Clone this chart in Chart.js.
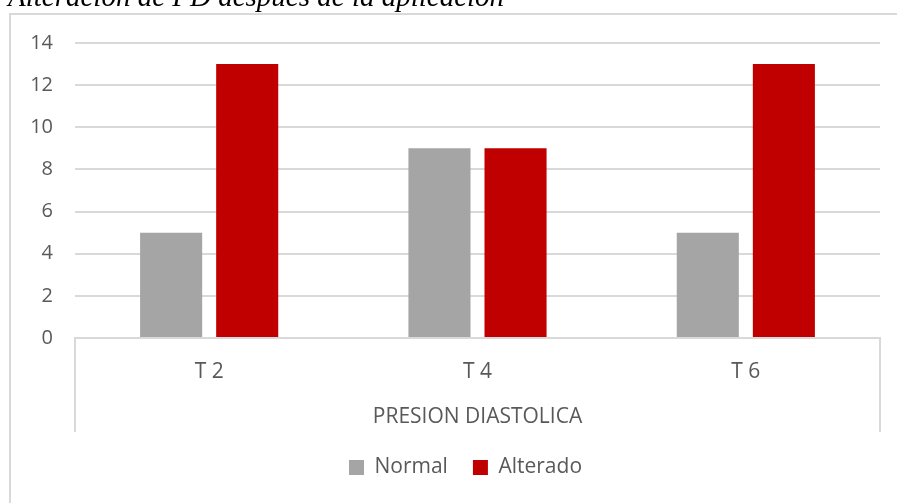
<!DOCTYPE html>
<html>
<head>
<meta charset="utf-8">
<script src="https://cdn.jsdelivr.net/npm/chart.js@4"></script>
<style>
  html, body { margin: 0; padding: 0; background: #ffffff; overflow: hidden; }
  #wrap { position: relative; width: 897px; height: 503px; }
  #title {
    position: absolute; left: 8px; top: -18px; margin: 0;
    font-family: "Liberation Serif", "Times New Roman", serif;
    font-style: italic; font-size: 29px; line-height: 29px; color: #000;
    white-space: nowrap;
  }
  canvas { position: absolute; left: 0; top: 0; }
</style>
</head>
<body>
<div id="wrap">
  <canvas id="c" width="897" height="503"></canvas>
  <div id="title">Alteración de PD después de la aplicación</div>
</div>
<script>
const categories = ['T 2', 'T 4', 'T 6'];
const normalValues = [5, 9, 5];
const alteradoValues = [13, 9, 13];
const seriesNames = ['Normal', 'Alterado'];
const groupLabel = 'PRESION DIASTOLICA';
const yTicks = { min: 0, max: 14, step: 2 };

const FONT = '"Open Sans", Lato, sans-serif';
const LINE = '#d9d9d9';
const TEXT = '#595959';

const framePlugin = {
  id: 'frame',
  afterLayout(chart) {
    // center the legend under the plot area rather than the whole canvas
    const lg = chart.legend;
    if (lg) {
      const a = chart.chartArea;
      const shift = (a.left + a.right) / 2 - (lg.left + lg.right) / 2 - 12;
      lg.left += shift;
      lg.right += shift;
    }
  },
  beforeDraw(chart) {
    const ctx = chart.ctx;
    ctx.save();
    ctx.strokeStyle = LINE;
    ctx.lineWidth = 2;
    ctx.beginPath();
    ctx.moveTo(10, 503);
    ctx.lineTo(10, 14);
    ctx.lineTo(897, 14);
    ctx.stroke();
    ctx.restore();
  },
  afterDatasetsDraw(chart) {
    const ctx = chart.ctx;
    const a = chart.chartArea;
    const xs = chart.scales.x;
    ctx.save();
    ctx.strokeStyle = LINE;
    ctx.lineWidth = 2;
    ctx.beginPath();
    ctx.moveTo(a.left, xs.bottom);
    ctx.lineTo(a.left, a.bottom);
    ctx.lineTo(a.right, a.bottom);
    ctx.lineTo(a.right, xs.bottom);
    ctx.stroke();
    ctx.restore();
  }
};

new Chart(document.getElementById('c'), {
  type: 'bar',
  data: {
    labels: categories,
    datasets: [
      { label: seriesNames[0], data: normalValues, backgroundColor: '#A5A5A5', borderWidth: 0 },
      { label: seriesNames[1], data: alteradoValues, backgroundColor: '#C00000', borderWidth: 0 }
    ]
  },
  options: {
    responsive: false,
    animation: false,
    devicePixelRatio: 1,
    datasets: { bar: { categoryPercentage: 0.567, barPercentage: 0.816 } },
    layout: { padding: { left: 10, top: 43, right: 17, bottom: 15 } },
    scales: {
      x: {
        grid: { display: false },
        border: { display: false },
        ticks: { color: TEXT, font: { family: FONT, size: 21 }, padding: 13 },
        title: {
          display: true, text: groupLabel, color: TEXT,
          font: { family: FONT, size: 21 }, padding: { top: 8, bottom: 2 }
        },
        afterFit(s) { s.height = 94; }
      },
      y: {
        min: yTicks.min, max: yTicks.max,
        grid: { color: LINE, lineWidth: 2, drawTicks: false },
        border: { display: false },
        ticks: { stepSize: yTicks.step, color: TEXT, font: { family: FONT, size: 20 }, padding: 22 },
        afterFit(s) { s.width = 65; }
      }
    },
    plugins: {
      legend: {
        position: 'bottom',
        labels: {
          color: TEXT, font: { family: FONT, size: 21 },
          boxWidth: 15, boxHeight: 15, padding: 25
        }
      },
      tooltip: { enabled: false }
    }
  },
  plugins: [framePlugin]
});
</script>
</body>
</html>
